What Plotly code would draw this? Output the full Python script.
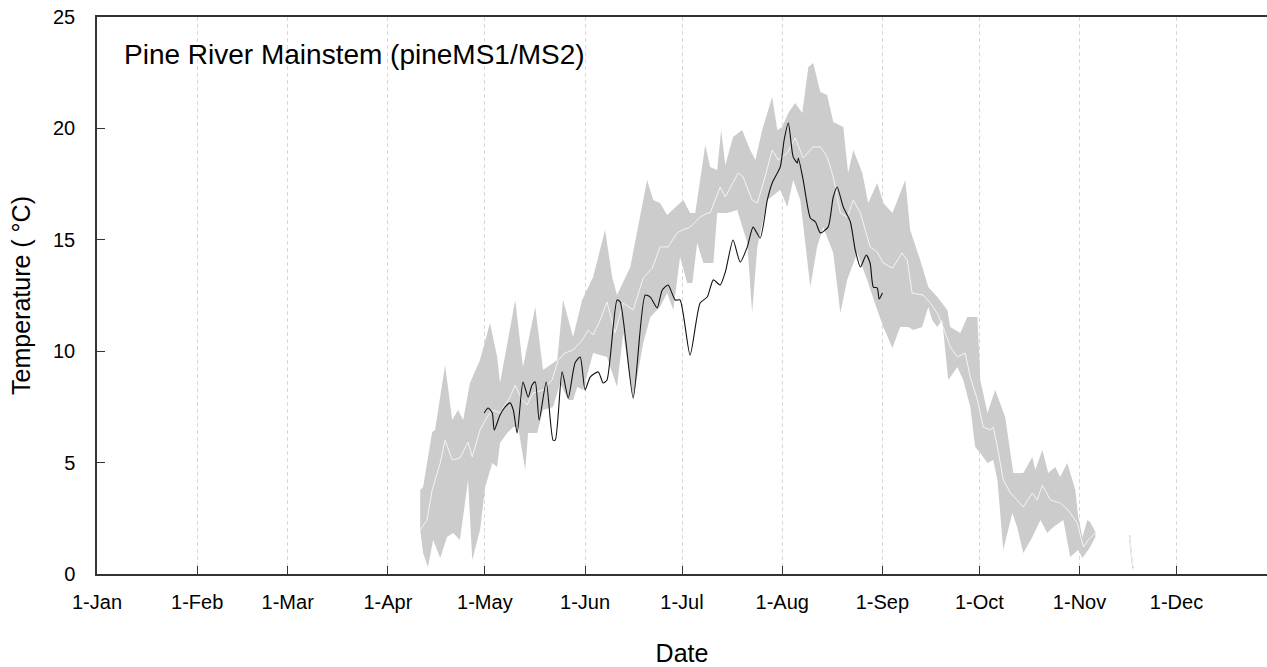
import plotly.graph_objects as go

# Day of year (0 = 1-Jan)
month_start_days = [0, 31, 59, 90, 120, 151, 181, 212, 243, 273, 304, 334]
month_labels = ["1-Jan", "1-Feb", "1-Mar", "1-Apr", "1-May", "1-Jun",
                "1-Jul", "1-Aug", "1-Sep", "1-Oct", "1-Nov", "1-Dec"]
y_ticks = [0, 5, 10, 15, 20, 25]

# Historical range band: upper envelope
upper_days = [100.0, 100.9, 103.7, 104.6, 107.7, 109.9, 111.7, 113.3, 115.4, 118.5,
              121.6, 123.8, 124.7, 129.4, 131.8, 135.6, 138.0, 142.4, 144.2, 147.3,
              150.1, 153.5, 157.2, 159.4, 160.9, 165.0, 170.2, 172.1, 174.2, 176.4,
              181.4, 183.5, 185.1, 188.2, 189.7, 191.9, 193.1, 194.4, 196.8, 199.6,
              202.1, 203.7, 205.8, 208.9, 210.5, 212.0, 213.9, 216.0, 218.2, 220.1,
              221.6, 223.8, 225.9, 227.8, 230.9, 232.4, 234.0, 236.8, 238.6, 241.4,
              243.3, 246.1, 250.1, 251.6, 254.7, 257.2, 260.0, 263.1, 264.0, 267.1,
              269.3, 272.4, 273.3, 275.5, 277.9, 281.0, 283.5, 286.6, 289.4, 290.3,
              292.5, 294.3, 296.5, 298.0, 300.2, 302.7, 303.6, 304.9, 306.4, 307.3, 308.9]
upper_temp = [3.77, 3.90, 6.37, 6.46, 9.38, 6.91, 7.36, 6.91, 8.57, 9.60,
              11.27, 9.74, 8.57, 12.30, 9.29, 11.98, 9.16, 9.60, 12.30, 10.64,
              12.30, 13.33, 15.44, 13.33, 12.52, 13.78, 17.68, 16.79, 16.65, 16.11,
              16.79, 16.20, 16.20, 19.25, 18.27, 18.13, 19.93, 18.36, 19.61, 19.93,
              19.03, 18.58, 19.93, 21.41, 19.93, 20.06, 20.69, 21.14, 20.69, 22.76,
              22.94, 21.63, 21.50, 20.29, 20.06, 18.00, 19.03, 18.00, 16.65, 17.55,
              16.65, 16.20, 17.68, 15.44, 14.09, 12.88, 12.43, 11.85, 11.09, 10.82,
              11.53, 11.53, 8.71, 7.23, 8.26, 7.05, 4.53, 4.53, 5.25, 4.67,
              5.57, 4.53, 4.80, 4.35, 4.98, 3.77, 2.56, 1.66, 2.42, 2.33, 1.89]

# Historical range band: lower envelope
lower_days = [100.0, 100.9, 102.4, 104.0, 106.2, 108.3, 110.2, 112.3, 114.8, 116.1,
              118.5, 120.1, 122.3, 123.8, 124.7, 126.9, 128.8, 130.3, 132.5, 133.4,
              136.2, 138.0, 141.1, 143.3, 145.8, 147.3, 148.6, 150.4, 153.5, 157.8,
              160.9, 162.8, 165.9, 169.0, 171.2, 174.2, 176.4, 178.3, 180.4, 182.6,
              184.2, 185.7, 187.6, 190.7, 191.9, 195.0, 198.1, 201.2, 202.7, 204.3,
              207.4, 211.4, 213.6, 215.4, 217.6, 220.7, 222.8, 224.7, 227.8, 230.0,
              232.1, 235.2, 238.3, 241.4, 243.3, 246.1, 248.5, 251.0, 252.6, 255.3,
              257.2, 258.4, 260.0, 261.5, 263.4, 266.2, 268.0, 270.2, 271.7, 273.3,
              275.5, 277.3, 278.6, 280.4, 283.2, 284.7, 286.6, 289.4, 291.9, 294.0,
              295.9, 299.0, 301.1, 303.6, 304.9, 307.3, 308.9]
lower_temp = [1.97, 0.94, 0.31, 1.53, 0.72, 1.66, 1.84, 1.53, 4.22, 0.63,
              1.97, 3.90, 4.98, 4.80, 5.88, 6.33, 6.60, 6.60, 4.67, 6.33,
              6.33, 7.36, 7.50, 8.57, 7.81, 7.81, 8.39, 8.26, 9.92, 9.74,
              8.39, 10.82, 7.81, 10.37, 11.53, 11.98, 12.61, 11.85, 14.23, 13.06,
              13.06, 14.86, 13.96, 13.96, 16.20, 16.20, 16.34, 14.86, 11.71, 14.68,
              16.79, 17.24, 16.47, 17.68, 16.79, 12.88, 14.68, 15.57, 14.41, 11.71,
              13.20, 14.41, 13.20, 11.85, 11.09, 10.14, 11.09, 11.09, 10.95, 11.09,
              11.98, 11.40, 11.09, 11.40, 8.71, 9.29, 8.71, 7.50, 5.70, 5.43,
              4.98, 5.12, 4.22, 1.08, 2.74, 2.11, 0.94, 1.66, 2.42, 1.84,
              2.11, 2.42, 0.76, 1.08, 0.72, 1.21, 1.66]

# Historical mean
mean_days = [100.0, 102.1, 103.7, 106.2, 107.7, 109.9, 112.3, 114.8, 116.1, 118.5,
             120.7, 122.3, 124.7, 127.8, 129.4, 131.5, 133.1, 134.9, 138.0, 140.8,
             142.7, 144.8, 147.3, 150.1, 152.0, 153.5, 155.7, 157.8, 160.3, 162.8,
             165.9, 169.0, 171.8, 174.2, 176.7, 179.5, 181.1, 183.5, 186.6, 188.8,
             189.7, 192.8, 194.4, 198.4, 199.9, 202.7, 204.3, 206.7, 208.9, 210.8,
             213.6, 216.0, 218.5, 221.6, 223.8, 225.9, 227.8, 230.0, 232.1, 234.0,
             236.2, 239.2, 241.4, 243.3, 246.1, 249.1, 250.7, 252.2, 255.6, 257.8,
             260.0, 261.8, 264.0, 266.2, 268.6, 270.2, 272.4, 274.2, 276.4, 277.3,
             278.6, 280.4, 282.6, 284.7, 286.6, 289.4, 290.9, 292.5, 295.0, 298.0,
             300.5, 303.3, 305.2, 306.7, 308.9]
mean_temp = [1.97, 2.42, 3.77, 4.98, 6.01, 5.12, 5.21, 5.92, 5.25, 6.46,
             7.05, 7.36, 7.23, 7.94, 8.48, 7.81, 7.59, 8.12, 8.26, 8.71,
             9.60, 9.92, 10.05, 10.50, 10.95, 10.73, 11.40, 12.21, 10.82, 12.16,
             11.85, 13.29, 13.73, 14.68, 14.68, 15.31, 15.44, 15.57, 16.02, 16.20,
             16.20, 17.37, 16.92, 18.00, 17.82, 16.79, 16.65, 17.82, 19.03, 18.58,
             18.90, 19.57, 18.67, 19.17, 19.17, 18.72, 17.82, 16.20, 16.02, 16.79,
             16.20, 14.68, 14.45, 13.96, 13.73, 14.41, 14.09, 12.61, 12.52, 12.16,
             11.71, 11.09, 10.19, 9.74, 9.92, 8.84, 7.81, 6.60, 6.46, 6.60,
             5.70, 4.22, 3.64, 3.32, 3.01, 3.64, 3.32, 3.99, 3.32, 3.19,
             2.87, 2.29, 1.21, 1.53, 1.84]

# Isolated late-season fragment
frag_days = [319.5, 320.5]
frag_upper = [1.75, 0.45]
frag_lower = [1.50, 0.25]
frag_mean = [1.62, 0.35]

# Observed (current year) temperature
obs_days = [119.8, 121.0, 122.3, 122.9, 124.7, 126.3, 127.8, 128.8, 130.0, 131.8,
            133.4, 134.6, 135.6, 136.8, 139.0, 141.1, 141.8, 143.9, 145.8, 147.9,
            149.5, 151.0, 152.6, 155.1, 156.6, 157.8, 160.9, 161.9, 165.9, 169.6,
            171.2, 173.3, 174.9, 176.7, 178.9, 180.4, 183.5, 186.6, 188.8, 190.7,
            192.8, 194.4, 196.8, 199.0, 201.2, 203.0, 205.2, 207.4, 208.9, 211.4,
            212.6, 213.9, 215.4, 216.7, 217.0, 218.5, 220.7, 222.3, 223.8, 226.2,
            227.8, 229.0, 230.9, 233.1, 234.6, 236.2, 238.0, 239.2, 240.2, 241.4,
            242.0, 243.0]
obs_temp = [7.23, 7.45, 7.23, 6.46, 7.14, 7.50, 7.68, 7.36, 6.33, 8.62,
            7.94, 8.48, 8.62, 6.91, 8.62, 6.01, 6.01, 9.07, 7.90, 9.47,
            9.74, 8.26, 8.84, 9.07, 8.57, 8.71, 12.30, 12.21, 7.90, 12.52,
            12.43, 11.94, 12.75, 12.97, 12.30, 12.30, 9.83, 12.16, 12.43, 13.20,
            12.97, 13.55, 14.99, 14.00, 14.68, 15.57, 15.08, 16.79, 17.55, 18.27,
            19.48, 20.24, 18.72, 18.45, 18.67, 17.68, 15.98, 15.80, 15.31, 15.57,
            16.92, 17.37, 16.47, 15.80, 14.54, 13.78, 14.32, 13.96, 12.88, 12.84,
            12.34, 12.61]

BAND = "#cccccc"
FONT = "Liberation Sans, Arial, sans-serif"

fig = go.Figure()

fig.add_trace(go.Scatter(
    x=upper_days + lower_days[::-1], y=upper_temp + lower_temp[::-1],
    fill="toself", fillcolor=BAND, line=dict(width=0), mode="lines",
    hoverinfo="skip", showlegend=False))
fig.add_trace(go.Scatter(
    x=frag_days + frag_days[::-1], y=frag_upper + frag_lower[::-1],
    fill="toself", fillcolor=BAND, line=dict(width=1, color=BAND), mode="lines",
    hoverinfo="skip", showlegend=False))
fig.add_trace(go.Scatter(
    x=mean_days, y=mean_temp, mode="lines",
    line=dict(color="#f4f4f4", width=1), showlegend=False))
fig.add_trace(go.Scatter(
    x=frag_days, y=frag_mean, mode="lines",
    line=dict(color="#f4f4f4", width=1), showlegend=False))
fig.add_trace(go.Scatter(
    x=obs_days, y=obs_temp, mode="lines", line_shape="spline",
    line=dict(color="#111111", width=1.1, smoothing=0.6), showlegend=False))

fig.add_annotation(
    text="Pine River Mainstem (pineMS1/MS2)", xref="paper", yref="paper",
    x=0.0215, y=0.932, xanchor="left", yanchor="middle", showarrow=False,
    font=dict(family=FONT, size=28, color="#000000"))

fig.update_layout(
    width=1267, height=667,
    margin=dict(l=97, r=0, t=17, b=93),
    paper_bgcolor="white", plot_bgcolor="white",
    font=dict(family=FONT, color="#000000"),
    xaxis=dict(
        range=[0, 362], tickmode="array", tickvals=month_start_days, ticktext=month_labels,
        showgrid=True, gridcolor="#d9d9d9", griddash="4px,3px", gridwidth=1,
        showline=True, linecolor="#333333", linewidth=1.5, mirror=True,
        ticks="inside", ticklen=8, tickcolor="#333333", tickwidth=1,
        tickfont=dict(family=FONT, size=20, color="#000000"),
        ticklabelstandoff=9,
        zeroline=False,
        title=dict(text="Date", font=dict(family=FONT, size=25, color="#000000"), standoff=35),
    ),
    yaxis=dict(
        range=[0, 25], tickmode="array", tickvals=y_ticks,
        showgrid=False, zeroline=False,
        showline=True, linecolor="#333333", linewidth=1.5,
        ticks="inside", ticklen=8, tickcolor="#333333", tickwidth=1,
        tickfont=dict(family=FONT, size=20, color="#000000"),
        ticklabelstandoff=16,
        title=dict(text="Temperature ( °C)", font=dict(family=FONT, size=25, color="#000000"), standoff=15),
    ),
)

fig.write_html("out.html", config={"displayModeBar": False},
               post_script="document.body.style.margin='0';")
